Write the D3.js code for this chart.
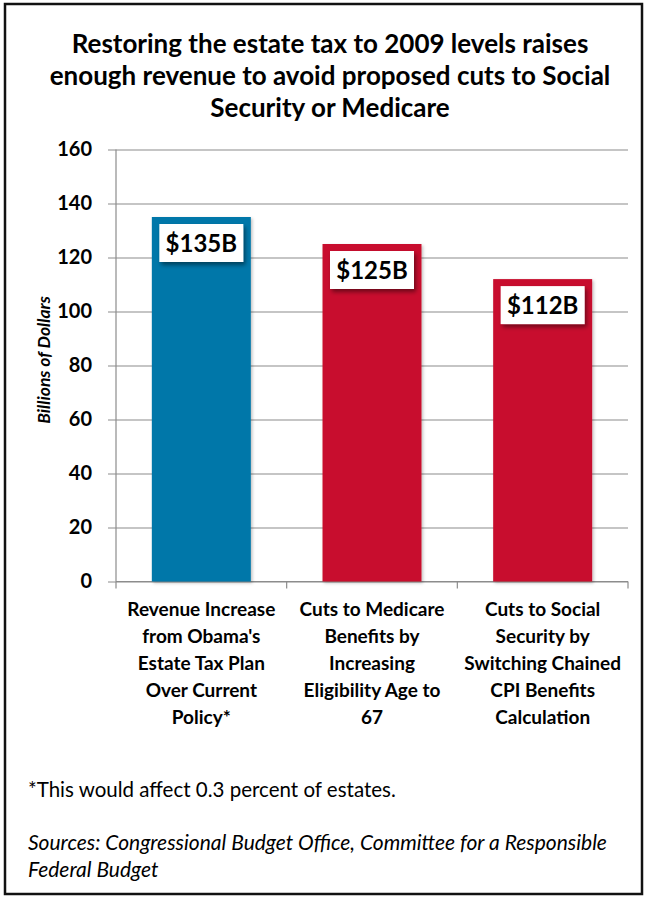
<!DOCTYPE html>
<html>
<head>
<meta charset="utf-8">
<script src="https://cdn.jsdelivr.net/npm/d3@7"></script>
<style>
  body { margin: 0; background: #fff; }
  svg { display: block; font-family: Lato, "Open Sans", sans-serif; }
</style>
</head>
<body>
<div id="chart"></div>
<script>
// chart data
var categories = ["rev", "medicare", "socsec"];
var categoryLines = [
  ["Revenue Increase", "from Obama's", "Estate Tax Plan", "Over Current", "Policy*"],
  ["Cuts to Medicare", "Benefits by", "Increasing", "Eligibility Age to", "67"],
  ["Cuts to Social", "Security by", "Switching Chained", "CPI Benefits", "Calculation"]
];
var values = [135, 125, 112];
var valueLabels = ["$135B", "$125B", "$112B"];
var barColors = ["#0677a9", "#c8102e", "#c8102e"];
var yTicks = [0, 20, 40, 60, 80, 100, 120, 140, 160];
var titleLines = [
  "Restoring the estate tax to 2009 levels raises",
  "enough revenue to avoid proposed cuts to Social",
  "Security or Medicare"
];

var width = 649, height = 899;

var svg = d3.select("#chart").append("svg")
  .attr("width", width)
  .attr("height", height);

var defs = svg.append("defs");
var f = defs.append("filter").attr("id", "shadow")
  .attr("x", "-20%").attr("y", "-20%").attr("width", "150%").attr("height", "160%");
f.append("feDropShadow").attr("dx", 2).attr("dy", 3).attr("stdDeviation", 2)
  .attr("flood-color", "#000").attr("flood-opacity", 0.45);
var fb = defs.append("filter").attr("id", "barshadow")
  .attr("x", "-10%").attr("y", "-10%").attr("width", "130%").attr("height", "120%");
fb.append("feDropShadow").attr("dx", 1.5).attr("dy", 1.5).attr("stdDeviation", 1.5)
  .attr("flood-color", "#000").attr("flood-opacity", 0.25);

// frame
svg.append("rect")
  .attr("x", 5).attr("y", 4)
  .attr("width", 637).attr("height", 890)
  .attr("fill", "#fff")
  .attr("stroke", "#111")
  .attr("stroke-width", 2.5);

// title
svg.append("g").selectAll("text")
  .data(titleLines)
  .enter().append("text")
  .attr("x", 330)
  .attr("y", function(d, i) { return 53 + i * 32; })
  .attr("text-anchor", "middle")
  .attr("font-size", 26)
  .attr("font-weight", "bold")
  .attr("fill", "#000")
  .text(function(d) { return d; });

var plot = { left: 116, right: 628, top: 149.5, bottom: 581.5 };

var x = d3.scaleBand()
  .domain(categories)
  .range([plot.left, plot.right])
  .paddingInner(0.42)
  .paddingOuter(0.21);

var y = d3.scaleLinear()
  .domain([0, 160])
  .range([plot.bottom, plot.top]);

// gridlines + y labels
var yAxis = d3.axisLeft(y)
  .tickValues(yTicks)
  .tickSize(-(plot.right - plot.left))
  .tickPadding(24)
  .tickFormat(d3.format("d"));

var gy = svg.append("g")
  .attr("transform", "translate(" + plot.left + ",0)")
  .call(yAxis);
gy.select(".domain").remove();
gy.selectAll(".tick line")
  .attr("x1", -8)
  .attr("stroke", "#8c8c8c")
  .attr("stroke-width", 1.2);
gy.selectAll(".tick text")
  .attr("font-size", 20)
  .attr("font-weight", "bold")
  .attr("fill", "#000")
  .attr("font-family", "Lato, sans-serif");

// y axis line
svg.append("line")
  .attr("x1", plot.left).attr("x2", plot.left)
  .attr("y1", plot.top).attr("y2", plot.bottom)
  .attr("stroke", "#8c8c8c").attr("stroke-width", 1.2);

// x axis line and category tick marks
svg.append("line")
  .attr("x1", plot.left).attr("x2", plot.right)
  .attr("y1", plot.bottom).attr("y2", plot.bottom)
  .attr("stroke", "#8c8c8c").attr("stroke-width", 1.2);

var step = (plot.right - plot.left) / categories.length;
svg.append("g").selectAll("line")
  .data(d3.range(categories.length + 1))
  .enter().append("line")
  .attr("x1", function(d) { return plot.left + d * step; })
  .attr("x2", function(d) { return plot.left + d * step; })
  .attr("y1", plot.bottom)
  .attr("y2", plot.bottom + 7)
  .attr("stroke", "#8c8c8c").attr("stroke-width", 1.2);

// bars
svg.append("g").selectAll("rect")
  .data(values)
  .enter().append("rect")
  .attr("x", function(d, i) { return x(categories[i]); })
  .attr("y", function(d) { return y(d); })
  .attr("width", x.bandwidth())
  .attr("height", function(d) { return y(0) - y(d); })
  .attr("fill", function(d, i) { return barColors[i]; })
  .attr("filter", "url(#barshadow)");

// value label boxes
var lab = svg.append("g").selectAll("g")
  .data(values)
  .enter().append("g")
  .attr("transform", function(d, i) {
    return "translate(" + (x(categories[i]) + x.bandwidth() / 2) + "," + (y(d) + 7) + ")";
  });

lab.append("rect")
  .attr("x", -42).attr("y", 0)
  .attr("width", 84).attr("height", 38)
  .attr("fill", "#fff")
  .attr("filter", "url(#shadow)");

lab.append("text")
  .attr("x", 0).attr("y", 27.5)
  .attr("text-anchor", "middle")
  .attr("font-size", 24)
  .attr("font-weight", "bold")
  .attr("fill", "#000")
  .text(function(d, i) { return valueLabels[i]; });

// category labels
var cl = svg.append("g").selectAll("text")
  .data(categoryLines)
  .enter().append("text")
  .attr("text-anchor", "middle")
  .attr("font-size", 19)
  .attr("font-weight", "bold")
  .attr("fill", "#000");

cl.each(function(lines, i) {
  var t = d3.select(this);
  var cx = x(categories[i]) + x.bandwidth() / 2;
  lines.forEach(function(s, j) {
    t.append("tspan")
      .attr("x", cx)
      .attr("y", 616 + j * 27)
      .text(s);
  });
});

// y axis title
svg.append("text")
  .attr("transform", "translate(50,360) rotate(-90)")
  .attr("text-anchor", "middle")
  .attr("font-size", 17.5)
  .attr("font-weight", "bold")
  .attr("font-style", "italic")
  .attr("fill", "#000")
  .text("Billions of Dollars");

// footnotes
svg.append("text")
  .attr("x", 28).attr("y", 797)
  .attr("font-size", 20.5)
  .attr("fill", "#000")
  .text("*This would affect 0.3 percent of estates.");

svg.append("g").selectAll("text")
  .data(["Sources: Congressional Budget Office, Committee for a Responsible", "Federal Budget"])
  .enter().append("text")
  .attr("x", 28)
  .attr("y", function(d, i) { return 850 + i * 27; })
  .attr("font-size", 21)
  .attr("font-style", "italic")
  .attr("fill", "#000")
  .text(function(d) { return d; });
</script>
</body>
</html>
